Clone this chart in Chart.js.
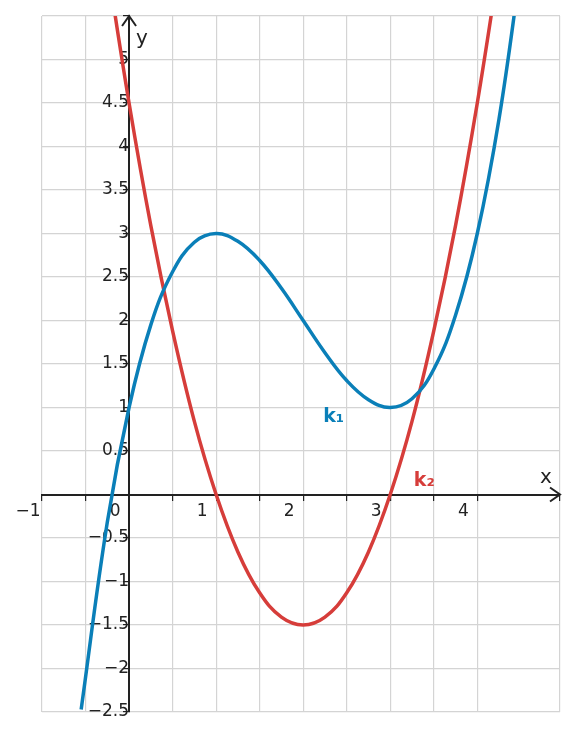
<!DOCTYPE html>
<html>
<head>
<meta charset="utf-8">
<script src="https://cdn.jsdelivr.net/npm/chart.js@4"></script>
<style>
body { margin: 0; background: #fff; }
#wrap { width: 581px; height: 741px; }
</style>
</head>
<body>
<div id="wrap"><canvas id="myChart"></canvas></div>
<script>
// values
var k1X = [-0.55, -0.25, 0, 0.25, 0.5, 0.75, 1, 1.25, 1.5, 1.75, 2, 2.25, 2.5, 2.75, 3, 3.25, 3.5, 3.75, 4, 4.25, 4.5];
var k1Y = [-2.47, -0.32, 1, 1.95, 2.56, 2.9, 3, 2.91, 2.69, 2.37, 2, 1.63, 1.31, 1.09, 1, 1.1, 1.44, 2.06, 3, 4.32, 6.06];
var k2X = [-0.25, 0, 0.25, 0.5, 0.75, 1, 1.25, 1.5, 1.75, 2, 2.25, 2.5, 2.75, 3, 3.25, 3.5, 3.75, 4, 4.25];
var k2Y = [6.09, 4.5, 3.09, 1.88, 0.84, 0, -0.66, -1.13, -1.41, -1.5, -1.41, -1.13, -0.66, 0, 0.84, 1.88, 3.09, 4.5, 6.09];
var xTicks = [-1, 0, 1, 2, 3, 4];
var yTicks = [-2.5, -2, -1.5, -1, -0.5, 0.5, 1, 1.5, 2, 2.5, 3, 3.5, 4, 4.5, 5];

var blue = "#0a7fb8";
var red = "#d63d3a";
var ink = "#222";

function pts(xs, ys) {
    var out = [];
    for (var i = 0; i < xs.length; i++) out.push({ x: xs[i], y: ys[i] });
    return out;
}
function fmt(v) {
    return String(v).replace("-", "\u2212");
}

var extras = {
    id: "extras",
    afterDraw: function (chart) {
        var c = chart.ctx, sx = chart.scales.x, sy = chart.scales.y;
        var x0 = sx.getPixelForValue(0), y0 = sy.getPixelForValue(0);
        var a = chart.chartArea;
        c.save();
        c.strokeStyle = ink; c.lineWidth = 2;
        // arrow heads
        c.beginPath();
        c.moveTo(a.right - 10, y0 - 7); c.lineTo(a.right, y0); c.lineTo(a.right - 10, y0 + 7);
        c.moveTo(x0 - 7, a.top + 10); c.lineTo(x0, a.top); c.lineTo(x0 + 7, a.top + 10);
        c.stroke();
        c.font = "20px 'DejaVu Sans'";
        c.fillStyle = ink;
        c.fillText("x", 540, 483);
        c.fillText("y", 136, 44);
        c.font = "bold 19px 'DejaVu Sans'";
        c.fillStyle = blue;
        c.fillText("k\u2081", sx.getPixelForValue(2.23), sy.getPixelForValue(0.83));
        c.fillStyle = red;
        c.fillText("k\u2082", sx.getPixelForValue(3.27), sy.getPixelForValue(0.1));
        c.restore();
    }
};

var ctx = document.getElementById("myChart");
var myChart = new Chart(ctx, {
    type: "scatter",
    data: {
        datasets: [
            { data: pts(k1X, k1Y), showLine: true, borderColor: blue, borderWidth: 3.5, pointRadius: 0, tension: 0.4 },
            { data: pts(k2X, k2Y), showLine: true, borderColor: red, borderWidth: 3.5, pointRadius: 0, tension: 0.4 }
        ]
    },
    options: {
        responsive: true,
        maintainAspectRatio: false,
        animation: false,
        layout: { padding: { left: 42, right: 21, top: 16, bottom: 29 } },
        plugins: { legend: { display: false }, tooltip: { enabled: false } },
        scales: {
            x: {
                type: "linear", min: -1, max: 4.95,
                position: { y: 0 },
                border: { display: true, color: ink, width: 2 },
                grid: { color: "#d4d4d4", lineWidth: 1.2, tickLength: 5, tickColor: ink },
                ticks: {
                    stepSize: 0.5, color: ink, font: { family: "DejaVu Sans", size: 17 },
                    padding: 2, labelOffset: -14,
                    callback: function (v) { return xTicks.indexOf(v) >= 0 ? fmt(v) : ""; }
                }
            },
            y: {
                type: "linear", min: -2.5, max: 5.5,
                position: { x: 0 },
                border: { display: true, color: ink, width: 2 },
                grid: { color: "#d4d4d4", lineWidth: 1.2, tickLength: 5, tickColor: ink },
                ticks: {
                    stepSize: 0.5, color: ink, font: { family: "DejaVu Sans", size: 17 },
                    padding: 2,
                    callback: function (v) { return yTicks.indexOf(v) >= 0 ? fmt(v) : ""; }
                }
            }
        }
    },
    plugins: [extras]
});
</script>
</body>
</html>
